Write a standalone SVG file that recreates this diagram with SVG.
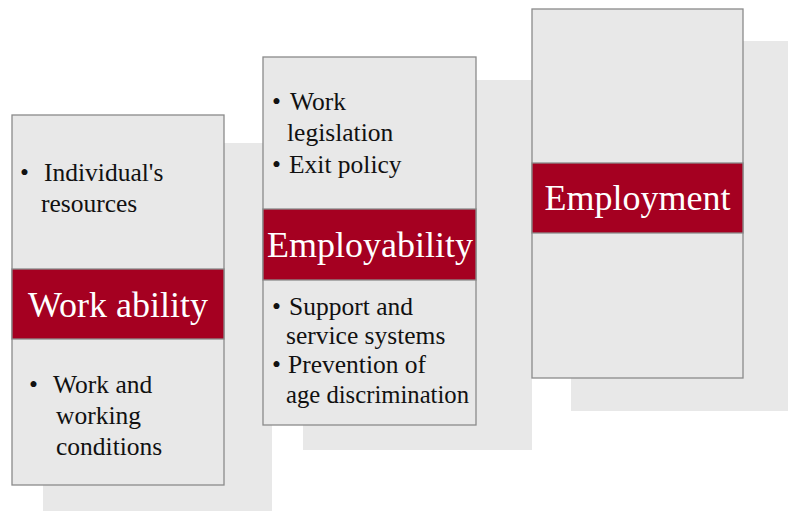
<svg xmlns="http://www.w3.org/2000/svg" width="788" height="511" viewBox="0 0 788 511">
<style>
.sh{fill:#e8e8e8}
.box{fill:#e8e8e8;stroke:#8a8a8a;stroke-width:1.3}
.band{fill:#a50021;stroke:#8a8a8a;stroke-width:1.3}
.b{font-family:"Liberation Serif","Times New Roman",serif;font-size:25.5px;fill:#111}
.h{font-family:"Liberation Serif","Times New Roman",serif;font-size:36px;fill:#fff;text-anchor:middle}
</style>
<rect x="0" y="0" width="788" height="511" fill="#fff"/>
<g id="connectors"></g>
<g id="node-workability">
<rect class="sh" x="43" y="143" width="229" height="368"/>
<rect class="box" x="12" y="115" width="212" height="370"/>
<rect class="band" x="12" y="269" width="212" height="70"/>
<text class="h" x="118" y="317">Work ability</text>
<g class="b" font-family="Liberation Serif, Times New Roman, serif">
<text x="20" y="181">•</text>
<text x="44" y="181">Individual's</text>
<text x="41" y="212">resources</text>
<text x="29" y="393">•</text>
<text x="53" y="393">Work and</text>
<text x="56" y="424">working</text>
<text x="56" y="455">conditions</text>
</g>
</g>
<g id="node-employability">
<rect class="sh" x="303" y="80" width="229" height="370"/>
<rect class="box" x="263" y="57" width="213" height="368"/>
<rect class="band" x="263" y="209" width="213" height="71"/>
<text class="h" x="370" y="257">Employability</text>
<g class="b" font-family="Liberation Serif, Times New Roman, serif">
<text x="272" y="110">•</text>
<text x="290" y="110">Work</text>
<text x="287" y="141">legislation</text>
<text x="272" y="173">•</text>
<text x="289" y="173">Exit policy</text>
<text x="272" y="315">•</text>
<text x="289" y="315">Support and</text>
<text x="286" y="344">service systems</text>
<text x="272" y="373">•</text>
<text x="288" y="373">Prevention of</text>
<text x="286" y="403" textLength="183" lengthAdjust="spacingAndGlyphs">age discrimination</text>
</g>
</g>
<g id="node-employment">
<rect class="sh" x="571" y="41" width="217" height="370"/>
<rect class="box" x="532" y="9" width="211" height="369"/>
<rect class="band" x="532" y="163" width="211" height="70"/>
<text class="h" x="637.5" y="210">Employment</text>
</g>
</svg>
